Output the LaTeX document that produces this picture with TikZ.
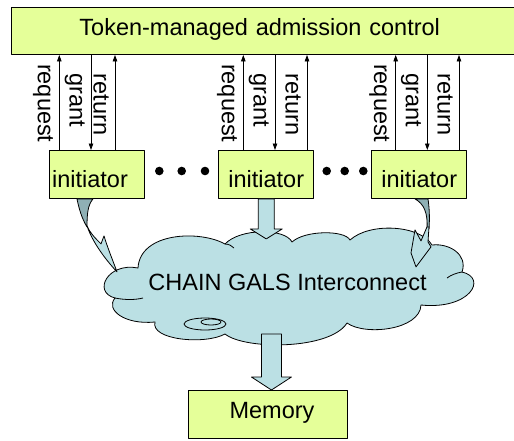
\documentclass[tikz,border=0pt]{standalone}
\usepackage{fontspec}
\setmainfont{Liberation Sans}
\usetikzlibrary{arrows.meta,calc}
\definecolor{boxfill}{RGB}{229,255,153}
\definecolor{cloudfill}{RGB}{187,224,228}
\definecolor{backface}{RGB}{143,176,181}

\begin{document}
\begin{tikzpicture}[x=1pt,y=-1pt,line join=round,
  txt/.style={font=\fontsize{23.5}{28}\selectfont},
  box/.style={draw=black,line width=0.9pt,fill=boxfill,txt,inner ysep=0pt,anchor=north west},
  initbox/.style={box,minimum width=95pt,minimum height=48pt,text height=25.4pt,text depth=0pt},
  sigtxt/.style={txt,rotate=-90,anchor=base west,inner sep=0pt},
  sig/.style={line width=0.8pt,-{Triangle[length=6.5pt,width=4.5pt]}},
  dot/.style={circle,fill=black,inner sep=0pt,minimum size=8.6pt},
  blockarrow/.style={draw=black,line width=0.8pt,fill=cloudfill},
  backarrow/.style={draw=black,line width=0.8pt,fill=backface}]
\useasboundingbox (0,0) rectangle (514,440);

% admission control bar
\node[box,minimum width=510pt,minimum height=47.3pt,inner xsep=68pt,
      text width=374pt,align=left,text height=16pt,text depth=6.7pt]
  (adm) at (11,6.7) {Token-managed admission control};

% initiators
\node[initbox,inner xsep=2.7pt,text width=89.6pt,align=left] (ini1) at (49,150) {initiator};
\node[initbox,inner xsep=0pt] (ini2) at (218.3,150) {initiator};
\node[initbox,inner xsep=0pt] (ini3) at (371.3,150) {initiator};

% memory
\node[box,minimum width=159pt,minimum height=48pt,inner xsep=33pt,text width=93pt,
      align=right,text height=16pt,text depth=7.4pt] (mem) at (188,390) {Memory};

% request / grant / return handshakes
\foreach \b/\rq/\gr/\rt in {ini1/10.3/42/66, ini2/25/56.7/88.7, ini3/24.4/56/87.7}{
  \coordinate (\b-rq) at ($(\b.north west)+(\rq,0)$);
  \coordinate (\b-gr) at ($(\b.north west)+(\gr,0)$);
  \coordinate (\b-rt) at ($(\b.north west)+(\rt,0)$);
  \draw[sig] (\b-rq) -- (\b-rq |- adm.south);
  \draw[sig] (\b-gr |- adm.south) -- (\b-gr);
  \draw[sig] (\b-rt) -- (\b-rt |- adm.south);
  \node[sigtxt] (\b-rqtxt) at ($(\b-rq |- adm.south)+(-21.5,9)$) {request};
  \node[sigtxt] (\b-grtxt) at ($(\b-gr |- adm.south)+(-21.5,18.7)$) {grant};
  \node[sigtxt] (\b-rttxt) at ($(\b-rt |- adm.south)+(-21.5,18.7)$) {return};
}

% ellipsis dots between initiators
\node[dot] (d1) at (159.3,171) {};
\node[dot] (d2) at (181.7,171) {};
\node[dot] (d3) at (205,171) {};
\node[dot] (d4) at (326.7,171) {};
\node[dot] (d5) at (344.7,171) {};
\node[dot] (d6) at (363.3,171) {};

% interconnect cloud
\draw[line width=0.8pt,fill=cloudfill]
  (138,268) .. controls (108,262) and (92,292) .. (115,298)
  .. controls (105,310) and (125,325) .. (155,322)
  .. controls (150,340) and (205,345) .. (225,334)
  .. controls (245,350) and (330,350) .. (347,323)
  .. controls (365,336) and (420,330) .. (421,305)
  .. controls (470,310) and (488,278) .. (462,272)
  .. controls (468,255) and (450,243) .. (432,245)
  .. controls (420,225) and (370,222) .. (350,240)
  .. controls (345,230) and (305,230) .. (292,242)
  .. controls (285,228) and (240,228) .. (225,244)
  .. controls (200,230) and (140,232) .. (138,268) -- cycle;
\draw[line width=0.8pt] (225,244) .. controls (229,244) and (232,246) .. (234,248);
\draw[line width=0.8pt] (462,272) .. controls (456,273) and (451,275) .. (447,278);
\draw[line width=0.8pt] (115,298) .. controls (125,300) and (135,300) .. (143,298);
\draw[line width=0.8pt,fill=cloudfill] (205,324) ellipse [x radius=21pt,y radius=6pt];
\draw[line width=0.8pt] (211,322) ellipse [x radius=10pt,y radius=3pt];
\node[txt,anchor=base,inner sep=0pt] (net) at (287.5,290) {CHAIN GALS Interconnect};

% straight block arrow from the middle initiator
\coordinate (cin) at ($(ini2.south)+(0,40)$);
\draw[blockarrow] ($(ini2.south)+(-8,0)$) -- ($(ini2.south)+(-8,30)$)
  -- ($(ini2.south)+(-16,30)$) -- (cin) -- ($(ini2.south)+(16,30)$)
  -- ($(ini2.south)+(8,30)$) -- ($(ini2.south)+(8,0)$) -- cycle;

% block arrow down to memory
\coordinate (mtip) at ($(mem.north)+(3.5,0)$);
\draw[blockarrow] ($(mtip)+(-10,-56)$) -- ($(mtip)+(-10,-13)$) -- ($(mtip)+(-20,-13)$)
  -- (mtip) -- ($(mtip)+(20,-13)$) -- ($(mtip)+(10,-13)$) -- ($(mtip)+(10,-56)$) -- cycle;

% curved arrow from the left initiator
\begin{scope}[shift={(ini1.south west)}]
  \draw[backarrow] (28,0) .. controls (30,10) and (33,20) .. (38,28)
    .. controls (38,14) and (39,6) .. (44,0) -- cycle;
  \draw[blockarrow] (38,27) .. controls (43,42) and (55,59) .. (68,73)
    .. controls (64,62) and (59,50) .. (55,37) -- (52,45)
    .. controls (46,39) and (41,34) .. (38,27) -- cycle;
\end{scope}

% curved arrow from the right initiator
\begin{scope}[shift={(ini3.south west)}]
  \draw[backarrow] (43.7,0) .. controls (52.7,5) and (56.7,14) .. (55.7,30)
    -- (57.7,30) .. controls (58.7,17) and (57.7,7) .. (56.7,0) -- cycle;
  \draw[blockarrow] (55.7,28) -- (57.7,28) -- (56.7,43) -- (59.7,48) -- (44.7,68)
    -- (39.7,54) -- (43.7,31) -- (49.7,42) -- cycle;
\end{scope}
\end{tikzpicture}
\end{document}
